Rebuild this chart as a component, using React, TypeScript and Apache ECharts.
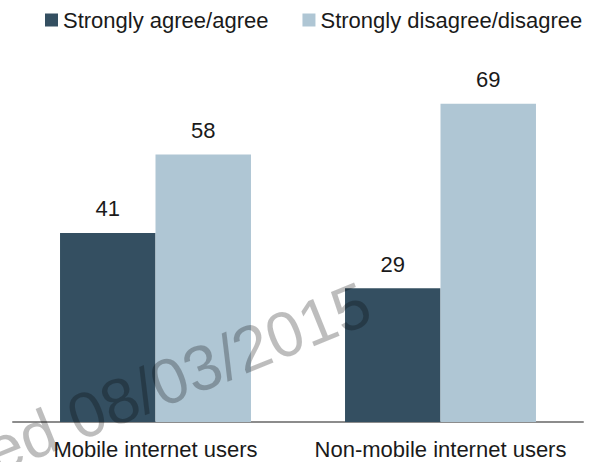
import React, { useEffect, useRef } from "react";
import * as echarts from "echarts";

const categories = ["Mobile internet users", "Non-mobile internet users"];
const seriesNames = ["Strongly agree/agree", "Strongly disagree/disagree"];
const agreeValues = [41, 29];
const disagreeValues = [58, 69];
const colors = ["#344f61", "#afc6d4"];
const watermarkText = "ed 08/03/2015";

const FONT = "'Liberation Sans', Arial, sans-serif";

export default function App() {
  const ref = useRef<HTMLDivElement>(null);
  useEffect(() => {
    if (!ref.current) return;
    const chart = echarts.init(ref.current, undefined, { renderer: "svg" });
    const label = {
      show: true,
      position: "top" as const,
      distance: 13,
      color: "#1a1a1a",
      fontSize: 22,
      fontFamily: FONT,
    };
    chart.setOption({
      animation: false,
      backgroundColor: "#ffffff",
      textStyle: { fontFamily: FONT },
      legend: {
        left: 40,
        top: 4,
        itemWidth: 13,
        itemHeight: 13,
        itemGap: 34,
        icon: "rect",
        textStyle: { fontSize: 22, lineHeight: 22, color: "#1a1a1a", fontFamily: FONT },
        data: seriesNames,
      },
      grid: { left: 13, right: 11, top: 53, bottom: 40, containLabel: false },
      xAxis: {
        type: "category",
        data: categories,
        axisLine: { show: true, lineStyle: { color: "#8c8c8c", width: 2 } },
        axisTick: { show: false },
        axisLabel: { margin: 16, fontSize: 22, color: "#1a1a1a", fontFamily: FONT, interval: 0 },
      },
      yAxis: {
        type: "value",
        min: 0,
        max: 80,
        show: false,
        splitLine: { show: false },
      },
      series: [
        {
          name: seriesNames[0],
          type: "bar",
          data: agreeValues,
          itemStyle: { color: colors[0] },
          barGap: "0%",
          barCategoryGap: "33%",
          label,
        },
        {
          name: seriesNames[1],
          type: "bar",
          data: disagreeValues,
          itemStyle: { color: colors[1] },
          barGap: "0%",
          barCategoryGap: "33%",
          label,
        },
      ],
      graphic: [
        {
          type: "text",
          x: 0,
          y: 484,
          rotation: (22 * Math.PI) / 180,
          z: 100,
          silent: true,
          style: {
            text: watermarkText,
            fontSize: 64,
            fontFamily: FONT,
            fill: "rgba(0,0,0,0.26)",
            align: "left",
            verticalAlign: "bottom",
          },
        },
      ],
    });
    return () => chart.dispose();
  }, []);
  return (
    <div
      ref={ref}
      style={{ position: "fixed", left: 0, top: 0, width: 594, height: 462 }}
    />
  );
}
